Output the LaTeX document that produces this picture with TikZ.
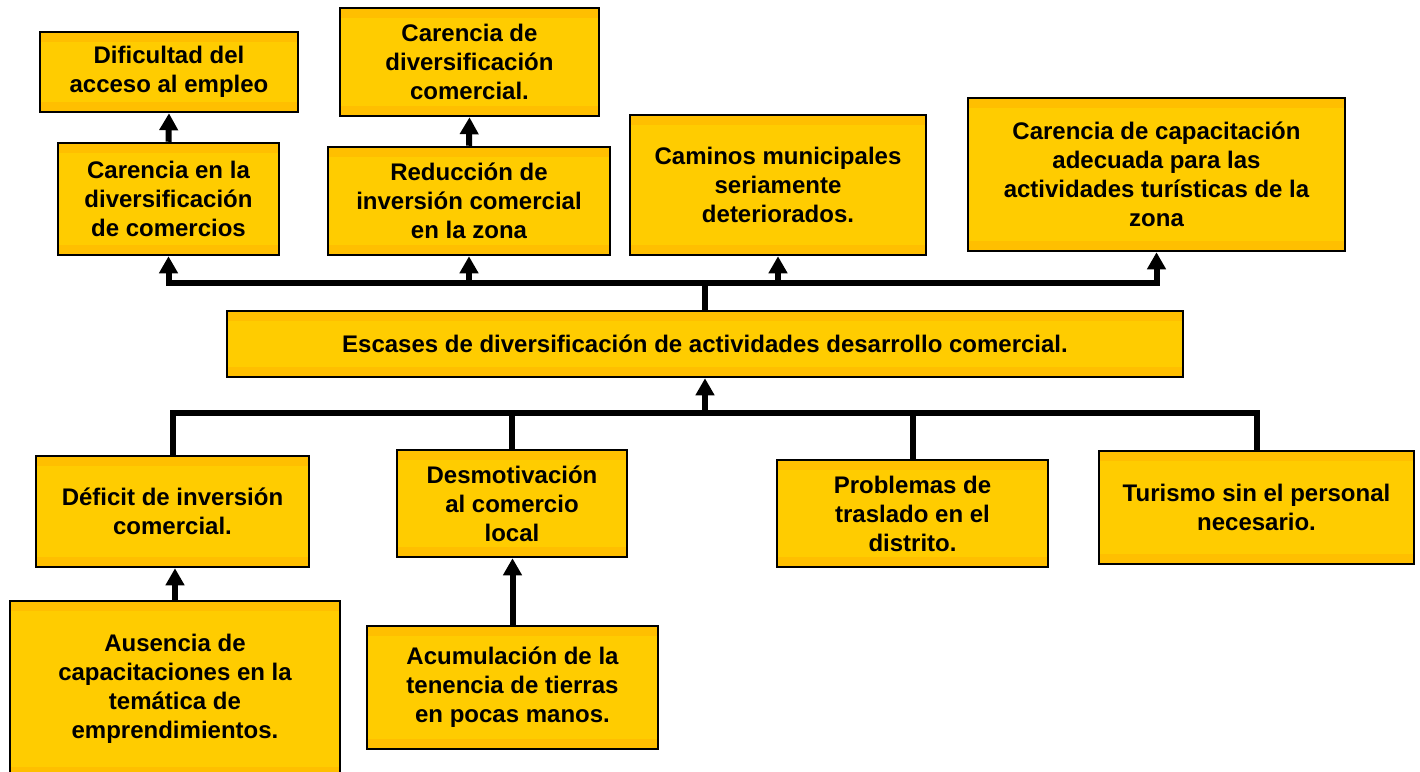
\documentclass[tikz,border=0pt]{standalone}
\usepackage{fontspec}
\setmainfont{Liberation Sans}
\usetikzlibrary{arrows.meta}
\definecolor{oro}{HTML}{FFCC00}
\definecolor{banda}{HTML}{FFBF00}
\tikzset{every path/.style={line width=2.5pt}}
\tikzset{
  caja/.style={draw=black, fill=oro, align=center, inner sep=0pt,
    font=\bfseries\fontsize{24}{29}\selectfont,
    path picture={
      \fill[banda] (path picture bounding box.north west) rectangle ([yshift=-10pt]path picture bounding box.north east);
      \fill[banda] (path picture bounding box.south west) rectangle ([yshift=10pt]path picture bounding box.south east);}},
  linea/.style={line width=6pt},
  flecha/.style={line width=6pt, -{Triangle[width=18pt,length=17pt]}}
}

\begin{document}
\begin{tikzpicture}[x=1pt,y=-1pt]
\useasboundingbox (0,0) rectangle (1420,771);
\node[caja, minimum width=258pt, minimum height=80pt] (e1) at (169,72) {Dificultad del\\acceso al empleo};
\node[caja, minimum width=221pt, minimum height=112pt] (e2) at (168.5,199) {Carencia en la\\diversificación\\de comercios};
\node[caja, minimum width=259pt, minimum height=108pt] (e3) at (469.5,62) {Carencia de\\diversificación\\comercial.};
\node[caja, minimum width=282pt, minimum height=108pt] (e4) at (469,201) {Reducción de\\inversión comercial\\en la zona};
\node[caja, minimum width=296pt, minimum height=140pt] (e5) at (778,185) {Caminos municipales\\seriamente\\deteriorados.};
\node[caja, minimum width=377pt, minimum height=153pt] (e6) at (1156.5,174.5) {Carencia de capacitación\\adecuada para las\\actividades turísticas de la\\zona};
\node[caja, minimum width=956pt, minimum height=66pt] (prob) at (705,344) {Escases de diversificación de actividades desarrollo comercial.};
\node[caja, minimum width=273pt, minimum height=111pt] (c1) at (172.5,511.5) {Déficit de inversión\\comercial.};
\node[caja, minimum width=230pt, minimum height=107pt] (c2) at (512,503.5) {Desmotivación\\al comercio\\local};
\node[caja, minimum width=271pt, minimum height=107pt] (c3) at (912.5,513.5) {Problemas de\\traslado en el\\distrito.};
\node[caja, minimum width=315pt, minimum height=113pt] (c4) at (1256.5,507.5) {Turismo sin el personal\\necesario.};
\node[caja, minimum width=330pt, minimum height=176pt] (r1) at (175,689) {Ausencia de\\capacitaciones en la\\temática de\\emprendimientos.};
\node[caja, minimum width=291pt, minimum height=123pt] (r2) at (512.5,687.5) {Acumulación de la\\tenencia de tierras\\en pocas manos.};
\coordinate (arriba) at (705,283);
\coordinate (abajo) at (705,413);
\draw[linea] (prob.north) -- (arriba);
\draw[flecha] (arriba) -| (e2.south);
\draw[flecha] (arriba) -| (e4.south);
\draw[flecha] (arriba) -| (e5.south);
\draw[flecha] (arriba) -| (e6.south);
\draw[flecha] (e2.north) -- (e1.south);
\draw[flecha] (e4.north) -- (e3.south);
\draw[flecha] (abajo) -- (prob.south);
\draw[linea] (abajo) -| (c1.north);
\draw[linea] (abajo) -| (c2.north);
\draw[linea] (abajo) -| (c3.north);
\draw[linea] (abajo) -| (c4.north);
\draw[flecha] (r1.north) -- (r1.north |- c1.south);
\draw[flecha] (r2.north) -- (r2.north |- c2.south);
\end{tikzpicture}
\end{document}
